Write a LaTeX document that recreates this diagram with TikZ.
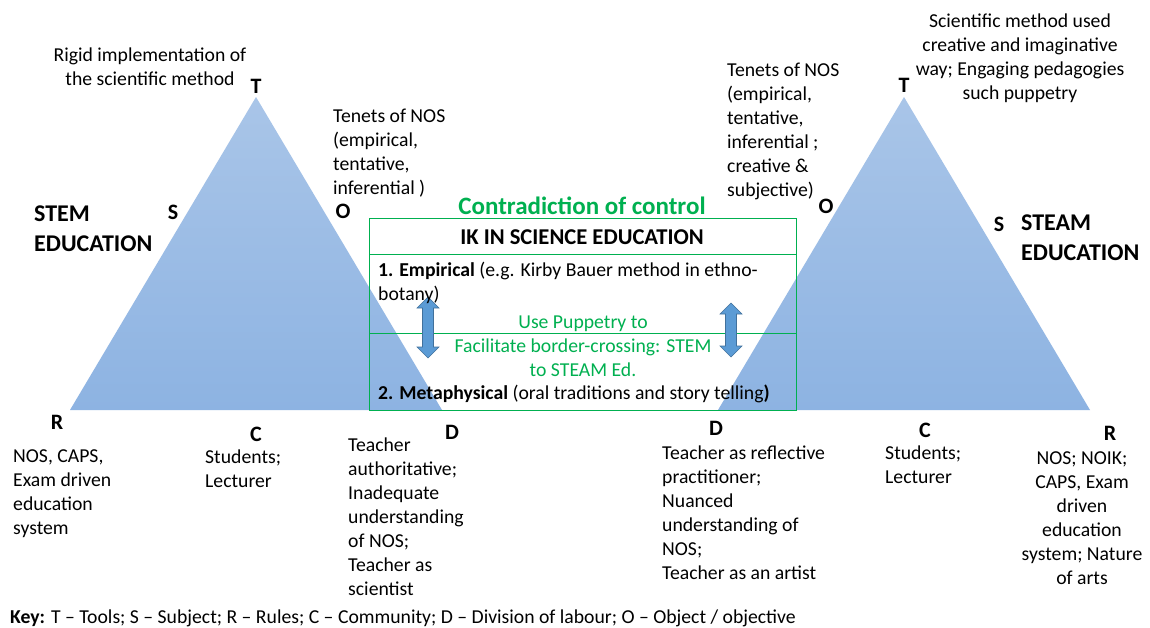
\documentclass[tikz,border=0pt]{standalone}
\usepackage{fontspec}
\setmainfont{Carlito}
\definecolor{ikgreen}{HTML}{00B050}
\definecolor{tritop}{HTML}{A9C5E8}
\definecolor{tribot}{HTML}{8DB3E2}
\definecolor{arrowfill}{HTML}{5B9BD5}
\definecolor{arrowedge}{HTML}{41719C}
\tikzset{
  txt/.style={inner sep=0pt,font=\fontsize{19.7}{24}\selectfont,align=left,anchor=base west},
  ctxt/.style={txt,align=center,anchor=base},
  head/.style={txt,font=\fontsize{24}{30}\selectfont\bfseries},
  lbl/.style={inner sep=0pt,font=\fontsize{22}{24}\selectfont\bfseries,anchor=base},
  darrow/.style={fill=arrowfill,draw=arrowedge,line width=.6pt,line join=miter},
  tri/.style={top color=tritop,bottom color=tribot,draw=none}
}
\begin{document}
\begin{tikzpicture}[x=1pt,y=-1pt]
        \useasboundingbox[fill=white] (0,0) rectangle (1150,628);
        \path[tri] (256,97) -- (442,410) -- (70,410) -- cycle;
        \path[tri] (904,97) -- (1090,410) -- (718,410) -- cycle;
        \path[draw,ikgreen,line width=.8pt] (369,218) rectangle (796,410);
        \path[draw,ikgreen,line width=.8pt] (369,254) -- (796,254);
        \path[draw,ikgreen,line width=.8pt] (369,333) -- (796,333);
        \path[darrow] (428,297) -- (439,308) -- (433.5,308) -- (433.5,347) -- (439,347) -- (428,358)
          -- (417,347) -- (422.5,347) -- (422.5,308) -- (417,308) -- cycle;
        \path[darrow] (731,303) -- (742,314) -- (736.5,314) -- (736.5,346) -- (742,346) -- (731,357)
          -- (720,346) -- (725.5,346) -- (725.5,314) -- (720,314) -- cycle;
        \node[lbl] (lT) at (256,94) {T};
        \node[lbl] (lS) at (173,220) {S};
        \node[lbl] (lO) at (343,219) {O};
        \node[lbl] (rT) at (904,93) {T};
        \node[lbl] (rO) at (826,214) {O};
        \node[lbl] (rS) at (999,232) {S};
        \node[lbl] (lR) at (57,429) {R};
        \node[lbl] (lC) at (256,441) {C};
        \node[lbl] (lD) at (452,439) {D};
        \node[lbl] (rD) at (716,435) {D};
        \node[lbl] (rC) at (925,437) {C};
        \node[lbl] (rR) at (1110,440) {R};
        \node[ctxt] (rigid) at (150,85.5) {Rigid implementation of\\the scientific method};
        \node[txt] (lnos) at (333,194.5) {Tenets of NOS\\(empirical,\\tentative,\\inferential )};
        \node[head] (stem) at (34,251.5) {STEM\\EDUCATION};
        \node[ctxt,text=ikgreen,font=\fontsize{25}{30}\selectfont\bfseries] (contr) at (582,215) {Contradiction of control};
        \node[ctxt,font=\fontsize{22.6}{24}\selectfont\bfseries] (ik) at (582,244.3) {IK IN SCIENCE EDUCATION};
        \node[txt] (emp) at (378,300.5) {\textbf{1. Empirical} (e.g. Kirby Bauer method in ethno-\\botany)};
        \node[ctxt,text=ikgreen] (pup) at (583,376.5) {Use Puppetry to\\Facilitate border-crossing: STEM\\to STEAM Ed.};
        \node[txt] (meta) at (378,399.5) {\textbf{2. Metaphysical} (oral traditions and story telling\textbf{)}};
        \node[txt] (rnos) at (727,196.5) {Tenets of NOS\\(empirical,\\tentative,\\inferential ;\\creative \&\\subjective)};
        \node[ctxt] (sci) at (1020,99.5) {Scientific method used\\creative and imaginative\\way; Engaging pedagogies\\such puppetry};
        \node[head] (steam) at (1021,261) {STEAM\\EDUCATION};
        \node[txt] (lrules) at (13,534.5) {NOS, CAPS,\\Exam driven\\education\\system};
        \node[txt] (lcomm) at (205,487.5) {Students;\\Lecturer};
        \node[txt] (ldiv) at (348,595.5) {Teacher\\authoritative;\\Inadequate\\understanding\\of NOS;\\Teacher as\\scientist};
        \node[txt] (rdiv) at (662,579.5) {Teacher as reflective\\practitioner;\\Nuanced\\understanding of\\NOS;\\Teacher as an artist};
        \node[txt] (rcomm) at (885,483.5) {Students;\\Lecturer};
        \node[ctxt] (rrules) at (1082,584.5) {NOS; NOIK;\\CAPS, Exam\\driven\\education\\system; Nature\\of arts};
        \node[txt] (key) at (10,623.5) {\textbf{Key:} T – Tools; S – Subject; R – Rules; C – Community; D – Division of labour; O – Object / objective};
      \end{tikzpicture}
\end{document}
